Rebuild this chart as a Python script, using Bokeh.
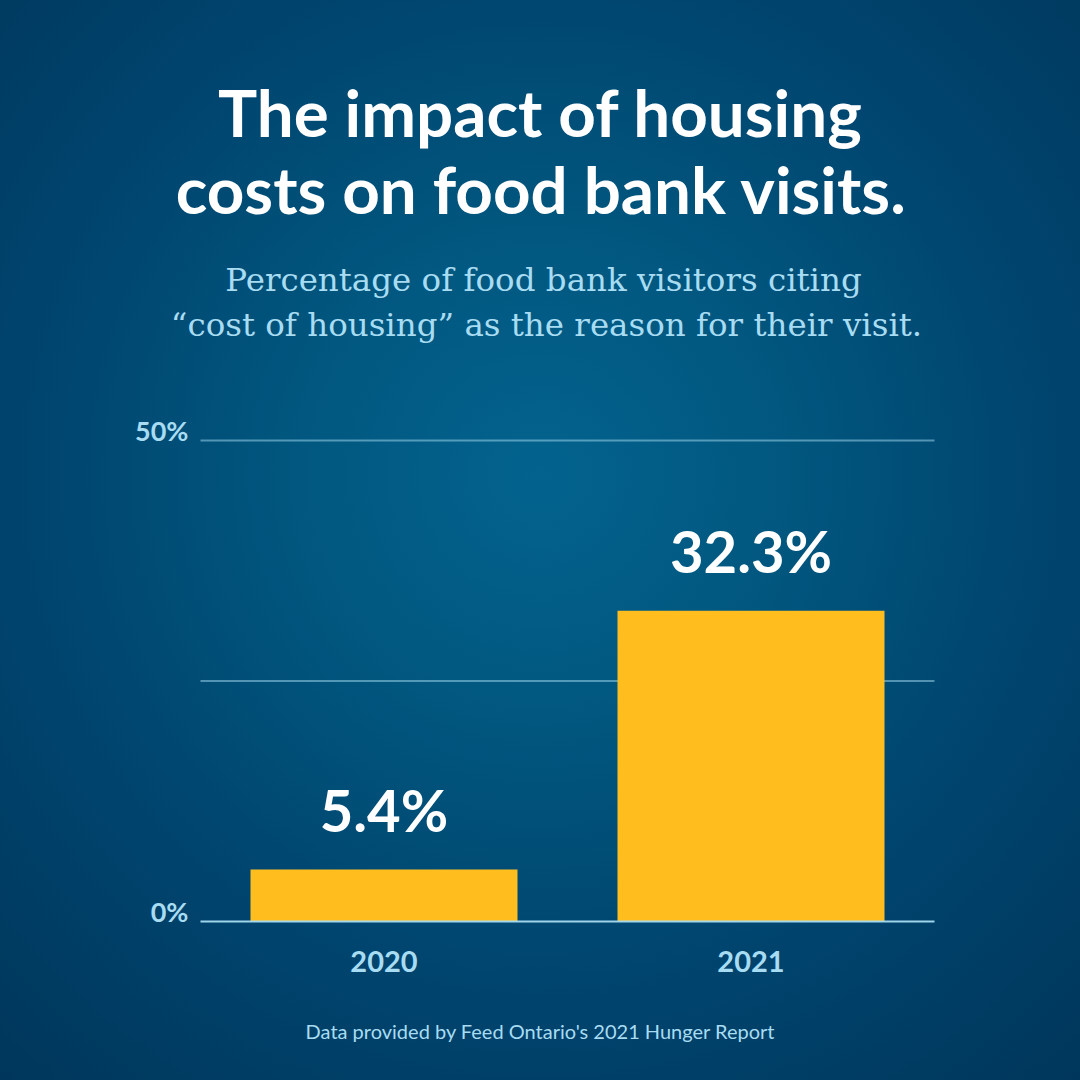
from bokeh.plotting import figure
from bokeh.models import Range1d, ColumnDataSource
from bokeh.core.properties import value
from bokeh.embed import file_html
from bokeh.resources import INLINE

# ---------------- data ----------------
years = ["2020", "2021"]
shares = [5.4, 32.3]
value_labels = ["5.4%", "32.3%"]
y_ticks = [0, 25, 50]
y_label_ticks = [0, 50]
y_tick_labels = ["0%", "50%"]

title_lines = ["The impact of housing", "costs on food bank visits."]
subtitle_lines = ["Percentage of food bank visitors citing",
                  "\u201ccost of housing\u201d as the reason for their visit."]
footer = "Data provided by Feed Ontario's 2021 Hunger Report"

# ---------------- layout / style ----------------
LIGHT = "#a8dcf2"
BAR = "#ffbe1e"
W = H = 1080
PLOT_L, PLOT_R, PLOT_T, PLOT_B = 200, 934, 440, 921   # chart area in page pixels
Y_MAX = 50

n = len(years)
idx = list(range(n))
x_lo, x_hi = -0.5, n - 0.5                       # category band edges
px_per_x = (PLOT_R - PLOT_L) / (x_hi - x_lo)
px_per_y = (PLOT_B - PLOT_T) / Y_MAX

p = figure(width=W, height=H, x_range=Range1d(0, W), y_range=Range1d(H, 0),
           output_backend="svg", toolbar_location=None, x_axis_type=None, y_axis_type=None,
           min_border=0, min_border_left=0, min_border_right=0, min_border_top=0,
           min_border_bottom=0, title=None)
p.styles = {"background": "radial-gradient(circle at 50% 44%, #03638e 0%, #01577f 30%, #004670 60%, #00365b 100%)"}
p.background_fill_alpha = 0
p.border_fill_alpha = 0
p.outline_line_color = None
p.grid.visible = False

# chart scales (value axis 0..50, categories by index)
p.extra_x_ranges = {"cat": Range1d(x_lo - PLOT_L / px_per_x, x_hi + (W - PLOT_R) / px_per_x)}
p.extra_y_ranges = {"val": Range1d(-(H - PLOT_B) / px_per_y, Y_MAX + PLOT_T / px_per_y)}
CH = dict(x_range_name="cat", y_range_name="val")

# grid lines
grid_src = ColumnDataSource(dict(y=y_ticks[1:], x0=[x_lo] * (len(y_ticks) - 1), x1=[x_hi] * (len(y_ticks) - 1)))
p.segment(x0="x0", x1="x1", y0="y", y1="y", source=grid_src, line_color=LIGHT,
          line_alpha=0.5, line_width=2, **CH)

# bars
src = ColumnDataSource(dict(x=idx, top=shares, lab=value_labels, year=years))
p.vbar(x="x", top="top", bottom=0, width=0.7275, source=src, fill_color=BAR, line_color=None, **CH)

# baseline (0%)
p.segment(x0=[x_lo], x1=[x_hi], y0=[y_ticks[0]], y1=[y_ticks[0]], line_color=LIGHT,
          line_alpha=0.95, line_width=2, **CH)

# value labels
p.text(x="x", y="top", text="lab", source=src, y_offset=-60, text_align="center",
       text_baseline="alphabetic", text_color="white", text_font=value("Lato"),
       text_font_style="bold", text_font_size="58px", **CH)

# category labels
p.text(x="x", y=0, text="year", source=src, y_offset=40, text_align="center",
       text_baseline="alphabetic", text_color=LIGHT, text_font=value("Lato"),
       text_font_style="bold", text_font_size="29px", **CH)

# value-axis labels
ysrc = ColumnDataSource(dict(y=y_label_ticks, t=y_tick_labels, x=[x_lo] * len(y_label_ticks)))
p.text(x="x", y="y", text="t", source=ysrc, x_offset=-12, y_offset=-10, text_align="right",
       text_baseline="alphabetic", text_color=LIGHT, text_font=value("Lato"),
       text_font_style="bold", text_font_size="27px", **CH)

# titles (page-pixel coordinates)
p.text(x=[540, 541], y=[111, 188], text=title_lines, text_align="center",
       text_baseline="alphabetic", text_color="white", text_font=value("Lato"),
       text_font_style="bold", text_font_size="65.5px")
p.text(x=[543, 546], y=[279, 324], text=subtitle_lines, text_align="center",
       text_baseline="alphabetic", text_color=LIGHT, text_font=value("DejaVu Serif"),
       text_font_size="32.5px")
p.text(x=[540], y=[1030], text=[footer], text_align="center", text_baseline="alphabetic",
       text_color=LIGHT, text_font=value("Lato"), text_font_size="20px")

open("out.html", "w").write(file_html(p, INLINE))
